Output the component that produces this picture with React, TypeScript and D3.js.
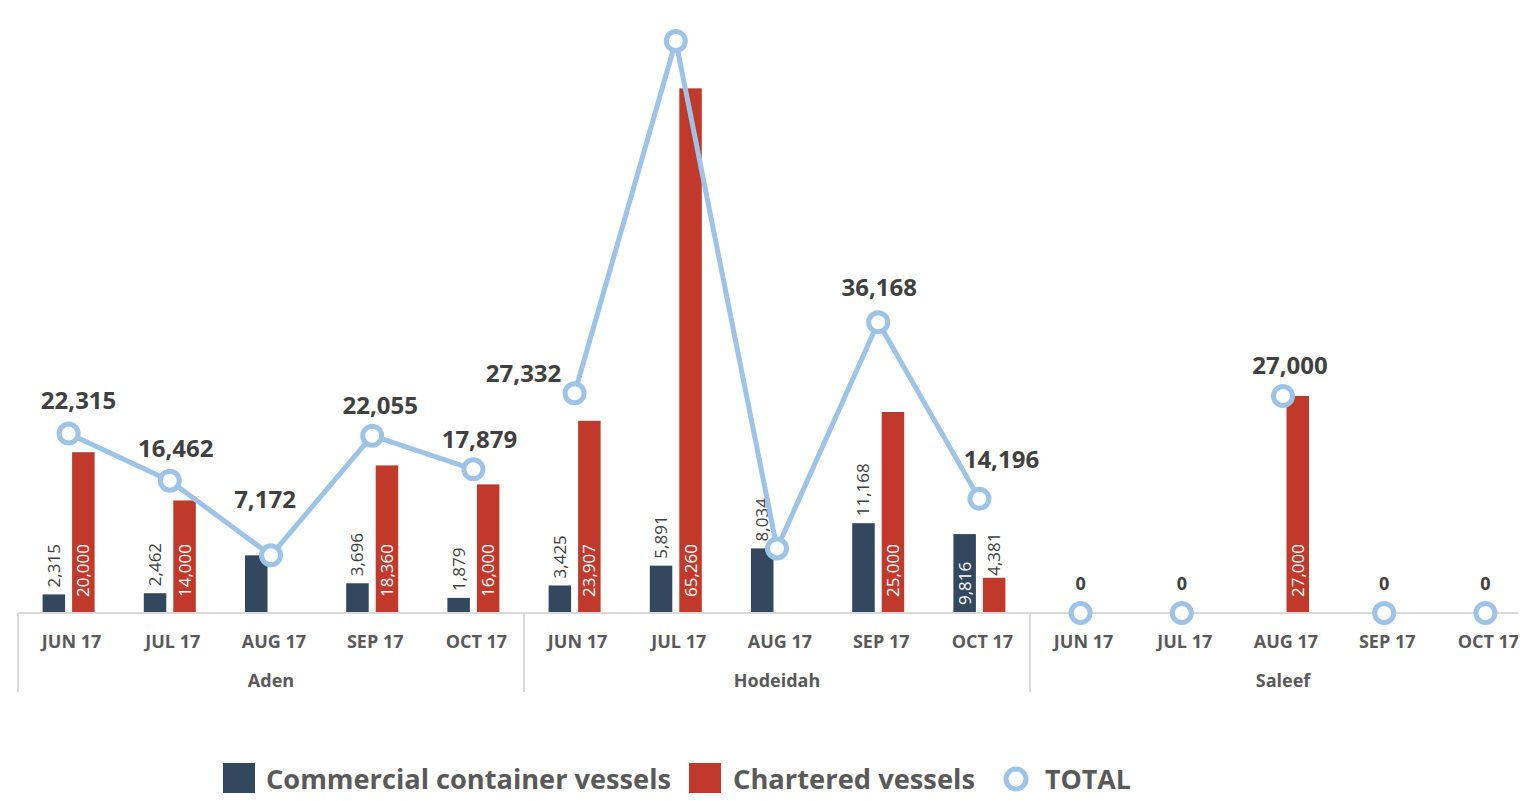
import React from "react";
import * as d3 from "d3";

const ports = ["Aden", "Hodeidah", "Saleef"];
const months = ["JUN 17", "JUL 17", "AUG 17", "SEP 17", "OCT 17"];

const commercialAden = [2315, 2462, 7172, 3696, 1879];
const commercialHodeidah = [3425, 5891, 8034, 11168, 9816];
const commercialSaleef = [0, 0, 0, 0, 0];

const charteredAden = [20000, 14000, 0, 18360, 16000];
const charteredHodeidah = [23907, 65260, 0, 25000, 4381];
const charteredSaleef = [0, 0, 27000, 0, 0];

const totalAden = [22315, 16462, 7172, 22055, 17879];
const totalHodeidah = [27332, 71151, 8034, 36168, 14196];
const totalSaleef = [0, 0, 27000, 0, 0];

const legendLabels = ["Commercial container vessels", "Chartered vessels", "TOTAL"];

// label visibility/placement as in the source chart
const commercialLabelMode = [
  "out", "out", "none", "out", "out",
  "out", "out", "out", "out", "in",
  "none", "none", "none", "none", "none",
];
const charteredLabelMode = [
  "in", "in", "none", "in", "in",
  "in", "in", "none", "in", "out",
  "none", "none", "in", "none", "none",
];
const totalLabelShown = [
  true, true, true, true, true,
  true, false, false, true, true,
  true, true, true, true, true,
];
const connectedGroups = [true, true, false];

// manual label nudges (layout)
const totalLabelDx = [10, 6, -6, 8, 6, -51, 0, 0, 1, 22, 0, 0, 7, 0, 0];
const totalLabelDy = [-25, -24, -47, -22, -21, -11, -23, -23, -26, -31, -23, -23, -22, -23, -23];

const NAVY = "#33485e";
const RED = "#c0392b";
const BLUE = "#9dc3e6";
const AXIS = "#d9d9d9";
const FONT = "'Open Sans', 'Noto Sans', sans-serif";

const fmt = d3.format(",");

export default function App() {
  const W = 1526;
  const H = 801;
  const commercial = [...commercialAden, ...commercialHodeidah, ...commercialSaleef];
  const chartered = [...charteredAden, ...charteredHodeidah, ...charteredSaleef];
  const total = [...totalAden, ...totalHodeidah, ...totalSaleef];
  const cats = ports.flatMap((p) => months.map((m) => `${p}|${m}`));

  const x = d3.scaleBand<string>().domain(cats).range([18, 1536]).padding(0);
  const y = d3.scaleLinear().domain([0, 76000]).range([613, 2]);
  const baseY = y(0);
  const barW = 22.5;
  const gap = 7;
  const cx = (i: number) => (x(cats[i]) as number) + x.bandwidth() / 2;

  const groupLines = ports.map((p, g) => {
    if (!connectedGroups[g]) return null;
    const idx = months.map((_, k) => g * months.length + k);
    const gen = d3
      .line<number>()
      .x((i) => cx(i))
      .y((i) => y(total[i]));
    return <path key={p} d={gen(idx) || ""} fill="none" stroke={BLUE} strokeWidth={5} strokeLinejoin="round" />;
  });

  const groupW = x.bandwidth() * months.length;

  return (
    <div style={{ margin: -8 }}>
      <svg width={W} height={H} style={{ display: "block", fontFamily: FONT }}>
        <rect width={W} height={H} fill="#fff" />
        {/* bars */}
        {cats.map((c, i) => {
          const xc = cx(i);
          const els: any[] = [];
          if (commercial[i] > 0) {
            const bx = xc - gap / 2 - barW;
            const by = y(commercial[i]);
            els.push(<rect key="c" x={bx} y={by} width={barW} height={baseY - by} fill={NAVY} />);
            const mode = commercialLabelMode[i];
            const lx = bx + barW / 2 + 6;
            if (mode === "out") {
              els.push(
                <text key="cl" transform={`translate(${lx},${by - 7}) rotate(-90)`} fontSize={17} fill="#404040">
                  {fmt(commercial[i])}
                </text>
              );
            } else if (mode === "in") {
              els.push(
                <text key="cl" transform={`translate(${lx},${baseY - 8}) rotate(-90)`} fontSize={17} fill="#fff">
                  {fmt(commercial[i])}
                </text>
              );
            }
          }
          if (chartered[i] > 0) {
            const bx = xc + gap / 2;
            const by = y(chartered[i]);
            els.push(<rect key="r" x={bx} y={by} width={barW} height={baseY - by} fill={RED} />);
            const mode = charteredLabelMode[i];
            const lx = bx + barW / 2 + 6;
            if (mode === "out") {
              els.push(
                <text key="rl" transform={`translate(${lx},${by - 2}) rotate(-90)`} fontSize={17} fill="#404040">
                  {fmt(chartered[i])}
                </text>
              );
            } else if (mode === "in") {
              els.push(
                <text key="rl" transform={`translate(${lx},${baseY - 16}) rotate(-90)`} fontSize={17} fill="#fff">
                  {fmt(chartered[i])}
                </text>
              );
            }
          }
          return <g key={c}>{els}</g>;
        })}

        {/* axis */}
        <line x1={18} x2={W} y1={baseY} y2={baseY} stroke={AXIS} strokeWidth={2} />
        {ports.map((p, g) => {
          const gx = 18 + g * groupW;
          return (
            <g key={p}>
              <line x1={gx} x2={gx} y1={baseY} y2={692} stroke={AXIS} strokeWidth={2} />
              <text x={gx + groupW / 2} y={687} textAnchor="middle" fontSize={18} fontWeight={700} fill="#595959">
                {p}
              </text>
            </g>
          );
        })}
        {cats.map((c, i) => (
          <text key={c} x={cx(i) + 3} y={648} textAnchor="middle" fontSize={18} fontWeight={700} fill="#595959">
            {months[i % months.length]}
          </text>
        ))}

        {/* total lines */}
        {groupLines}
        {cats.map((c, i) => (
          <circle key={c} cx={cx(i)} cy={y(total[i])} r={9.5} fill="#fff" stroke={BLUE} strokeWidth={5} />
        ))}
        {cats.map((c, i) =>
          totalLabelShown[i] ? (
            <text
              key={c}
              x={cx(i) + totalLabelDx[i]}
              y={y(total[i]) + totalLabelDy[i]}
              textAnchor="middle"
              fontSize={total[i] === 0 ? 18 : 24}
              fontWeight={700}
              fill="#404040"
            >
              {fmt(total[i])}
            </text>
          ) : null
        )}

        {/* legend */}
        <g>
          <rect x={223} y={763} width={32} height={32} fill={NAVY} />
          <text x={266} y={789} fontSize={26} fontWeight={700} fill="#595959" textLength={405} lengthAdjust="spacingAndGlyphs">
            {legendLabels[0]}
          </text>
          <rect x={689} y={763} width={32} height={32} fill={RED} />
          <text x={733} y={789} fontSize={26} fontWeight={700} fill="#595959" textLength={242} lengthAdjust="spacingAndGlyphs">
            {legendLabels[1]}
          </text>
          <circle cx={1016} cy={779} r={10} fill="#fff" stroke={BLUE} strokeWidth={5} />
          <text x={1045} y={789} fontSize={26} fontWeight={700} fill="#595959" textLength={86} lengthAdjust="spacingAndGlyphs">
            {legendLabels[2]}
          </text>
        </g>
      </svg>
    </div>
  );
}
